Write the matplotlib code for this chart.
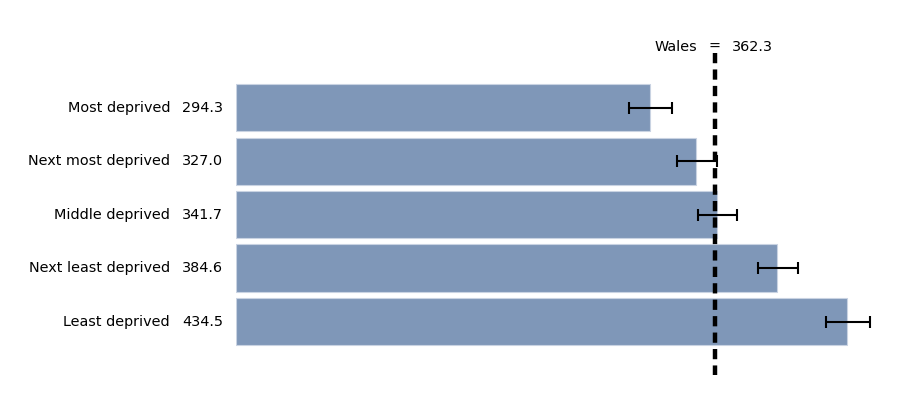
import matplotlib as mpl
mpl.use('Agg')
import matplotlib.pyplot as plt
import numpy as np

categories = ["Most deprived", "Next most deprived", "Middle deprived",
              "Next least deprived", "Least deprived"]
values = [294.3, 327.0, 341.7, 384.6, 434.5]
ci_low = [279.4, 313.5, 328.5, 371.2, 419.6]
ci_high = [310.0, 342.0, 356.2, 399.6, 450.9]
wales_label = "362.3"
wales_line_x = 340.3   # where the dashed line sits in the original picture

W, H = 910, 400
fig = plt.figure(figsize=(W / 100, H / 100), dpi=100)
# axes in pixel terms: left 236, right 897, top 53, bottom 375
ax = fig.add_axes([236 / W, (H - 375) / H, 661 / W, 322 / H])

y = np.arange(len(categories))
vals = np.array(values)
err = [vals - np.array(ci_low), np.array(ci_high) - vals]

ax.barh(y, vals, height=0.88, color="#7F97B8", edgecolor="#C9D3E2", linewidth=0.8)
ax.errorbar(vals, y, xerr=err, fmt="none", ecolor="black",
            elinewidth=1.5, capsize=4.6, capthick=1.5)

ylo, yhi = 5.0, -1.02
# draw from the top down so the dash pattern starts under the label
ax.plot([wales_line_x, wales_line_x], [yhi, ylo], color="black", lw=3.2,
        dashes=(2.3, 1.4), solid_capstyle="butt", dash_capstyle="butt")

ax.set_xlim(0, 470)
ax.set_ylim(ylo, yhi)
ax.axis("off")

# category and value labels on the left
for i, (c, v) in enumerate(zip(categories, values)):
    ax.annotate(c, xy=(0, i), xycoords="data", xytext=(-66, 0),
                textcoords="offset pixels", ha="right", va="center", fontsize=10.4)
    ax.annotate("%.1f" % v, xy=(0, i), xycoords="data", xytext=(-54, 0),
                textcoords="offset pixels", ha="left", va="center", fontsize=10.4)

# Wales label above the dashed line
ytop = 1 - 47 / H
fig.text(697 / W, ytop, "Wales", ha="right", va="center", fontsize=10.4)
fig.text(714 / W, ytop, "=", ha="center", va="center", fontsize=10.4)
fig.text(732 / W, ytop, wales_label, ha="left", va="center", fontsize=10.4)

fig.savefig("out.png", dpi=100)
